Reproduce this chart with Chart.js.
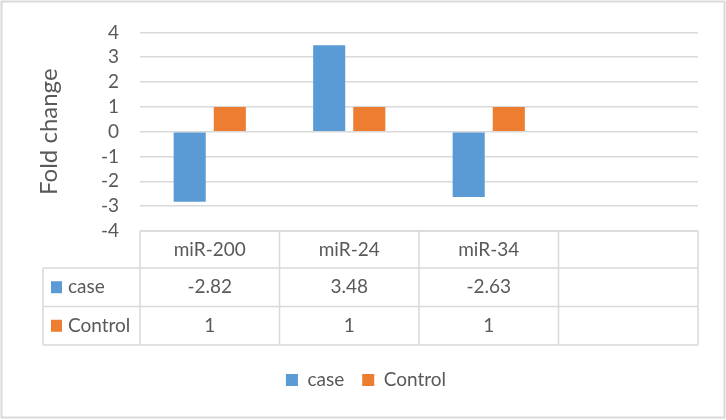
<!DOCTYPE html>
<html>
<head>
<meta charset="utf-8">
<script src="https://cdn.jsdelivr.net/npm/chart.js@4.4.1/dist/chart.umd.min.js"></script>
<style>
  html, body { margin: 0; padding: 0; background: #fff; }
  #wrap { width: 726px; height: 420px; position: relative; }
</style>
</head>
<body>
<div id="wrap"><canvas id="c" width="726" height="420"></canvas></div>
<script>
const categories = ["miR-200", "miR-24", "miR-34", ""];
const caseValues = [-2.82, 3.48, -2.63, null];
const controlValues = [1, 1, 1, null];
const caseLabels = ["-2.82", "3.48", "-2.63", ""];
const controlLabels = ["1", "1", "1", ""];
const seriesNames = ["case", "Control"];
const yTicks = [-4, -3, -2, -1, 0, 1, 2, 3, 4];

const BLUE = "#5B9BD5", ORANGE = "#ED7D31", GRID = "#D9D9D9", TEXT = "#595959";
const FONT = "Lato";

const frame = {
  id: "frame",
  beforeDraw(chart) {
    const ctx = chart.ctx;
    ctx.save();
    ctx.fillStyle = "#fff";
    ctx.fillRect(0, 0, chart.width, chart.height);
    ctx.strokeStyle = GRID;
    ctx.lineWidth = 2;
    ctx.strokeRect(1.5, 1.5, chart.width - 3, chart.height - 4);
    ctx.restore();
  }
};

const shiftLegend = {
  id: "shiftLegend",
  afterLayout(chart) {
    if (chart.legend) { chart.legend.left += 17; chart.legend.right += 17; }
  }
};

const dataTable = {
  id: "dataTable",
  afterDraw(chart) {
    const ctx = chart.ctx;
    const xs = chart.scales.x;
    const ca = chart.chartArea;
    const n = categories.length;
    const cw = (xs.right - xs.left) / n;
    const rows = [ca.bottom, ca.bottom + 37, ca.bottom + 75.5, ca.bottom + 114];
    const labelLeft = 43;
    ctx.save();
    ctx.strokeStyle = GRID;
    ctx.lineWidth = 1.5;
    ctx.beginPath();
    ctx.moveTo(xs.left, rows[0]); ctx.lineTo(xs.right, rows[0]);
    for (let r = 1; r < rows.length; r++) {
      ctx.moveTo(labelLeft, rows[r]); ctx.lineTo(xs.right, rows[r]);
    }
    for (let i = 0; i <= n; i++) {
      const x = xs.left + i * cw;
      ctx.moveTo(x, rows[0]); ctx.lineTo(x, rows[3]);
    }
    ctx.moveTo(labelLeft, rows[1]); ctx.lineTo(labelLeft, rows[3]);
    ctx.stroke();

    ctx.fillStyle = TEXT;
    ctx.font = "19px " + FONT;
    ctx.textAlign = "center";
    ctx.textBaseline = "middle";
    for (let i = 0; i < n; i++) {
      const cx = xs.getPixelForValue(i);
      ctx.fillText(categories[i], cx, (rows[0] + rows[1]) / 2);
      ctx.fillText(caseLabels[i], cx, (rows[1] + rows[2]) / 2);
      ctx.fillText(controlLabels[i], cx, (rows[2] + rows[3]) / 2);
    }
    const keys = [BLUE, ORANGE];
    ctx.textAlign = "left";
    for (let s = 0; s < 2; s++) {
      const cy = (rows[s + 1] + rows[s + 2]) / 2;
      ctx.fillStyle = keys[s];
      ctx.fillRect(51, cy - 6, 11, 12);
      ctx.fillStyle = TEXT;
      ctx.fillText(seriesNames[s], 68, cy);
    }
    ctx.restore();
  }
};

new Chart(document.getElementById("c"), {
  type: "bar",
  data: {
    labels: categories,
    datasets: [
      { label: seriesNames[0], data: caseValues, backgroundColor: BLUE },
      { label: seriesNames[1], data: controlValues, backgroundColor: ORANGE }
    ]
  },
  options: {
    responsive: false,
    animation: false,
    devicePixelRatio: 1,
    layout: { padding: { top: 31, right: 28, left: 0, bottom: 20.5 } },
    datasets: { bar: { categoryPercentage: 0.575, barPercentage: 0.8 } },
    plugins: {
      legend: {
        position: "bottom",
        labels: {
          boxWidth: 12, boxHeight: 12, padding: 18,
          color: TEXT, font: { family: FONT, size: 19 }
        }
      },
      tooltip: { enabled: false }
    },
    scales: {
      x: {
        grid: { display: false },
        border: { display: false },
        ticks: { display: false },
        afterFit(scale) { scale.height = 121.5; }
      },
      y: {
        min: -4, max: 4,
        afterBuildTicks(scale) { scale.ticks = yTicks.map(v => ({ value: v })); },
        ticks: { color: TEXT, padding: 21, autoSkip: false, font: { family: FONT, size: 19 } },
        grid: { color: GRID, lineWidth: 1.5, drawTicks: false },
        border: { display: false },
        title: {
          display: true, text: "Fold change", color: TEXT,
          font: { family: FONT, size: 24 }, padding: { top: 35, bottom: 0 }
        },
        afterFit(scale) { scale.width = 140; }
      }
    }
  },
  plugins: [frame, shiftLegend, dataTable]
});
</script>
</body>
</html>
